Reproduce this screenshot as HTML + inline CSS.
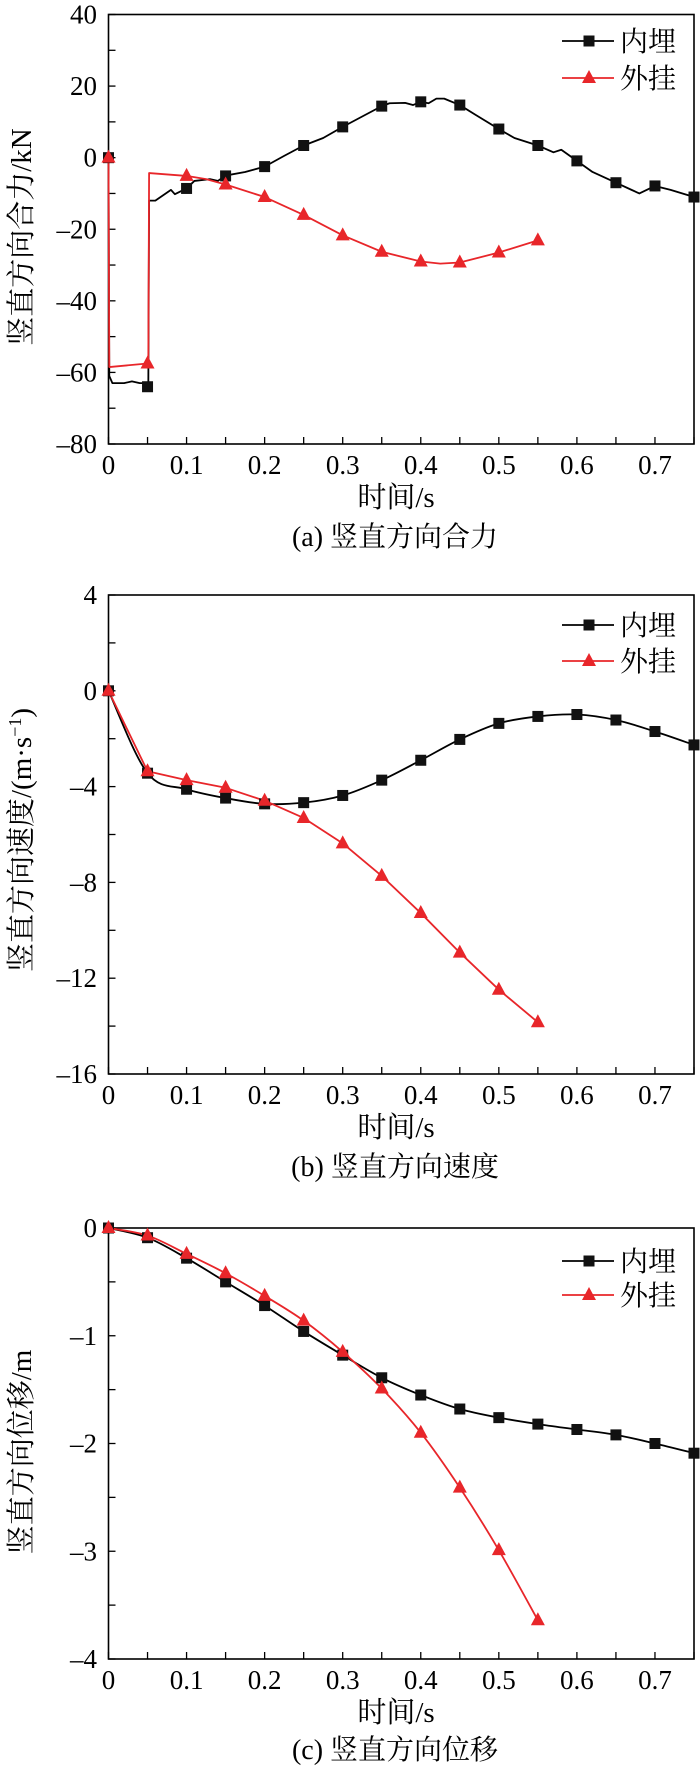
<!DOCTYPE html>
<html><head><meta charset="utf-8">
<style>
html,body{margin:0;padding:0;background:#fff;}
svg{display:block;}
text{font-family:"Liberation Serif","Noto Serif CJK SC","Noto Sans CJK SC",serif;fill:#000;}
</style></head>
<body>
<svg id="fig" width="700" height="1769" viewBox="0 0 700 1769" xmlns="http://www.w3.org/2000/svg"></svg>
<script>
// ---- shared x data ----
const markerTimes = [0,0.05,0.1,0.15,0.2,0.25,0.3,0.35,0.4,0.45,0.5,0.55,0.6,0.65,0.7,0.75];
const xTickLabels = ["0","0.1","0.2","0.3","0.4","0.5","0.6","0.7"];
// ---- (a) force ----
const forceEmbedMarkers = [0,-64,-8.6,-5.1,-2.5,3.4,8.6,14.4,15.6,14.7,8.0,3.4,-0.9,-7.0,-7.9,-11];
const forceHangMarkers = [0,-57.5,-5.1,-7.5,-11,-16,-21.7,-26.3,-29,-29.3,-26.5,-23.1];
const forceEmbedTraceT = [0,0.001,0.005,0.02,0.03,0.04,0.05,0.0505,0.051,0.052,0.06,0.07,0.08,0.085,0.1,0.11,0.13,0.14,0.15,0.175,0.2,0.225,0.25,0.275,0.3,0.325,0.35,0.36,0.38,0.39,0.4,0.41,0.42,0.43,0.45,0.47,0.5,0.52,0.55,0.57,0.58,0.6,0.62,0.65,0.67,0.68,0.7,0.72,0.75];
const forceEmbedTraceV = [0,-61,-63,-63,-62.5,-63,-63,-64,-64,-12,-12,-10.5,-9,-10.2,-8.6,-6.5,-6,-6.5,-5,-4,-2.5,0.5,3.4,5.5,8.6,11.5,14.4,15.2,15.3,14.7,15.6,15.2,16.5,16.5,14.7,12,8.0,5.5,3.4,1.5,2.2,-0.9,-4,-7,-9,-10,-7.9,-9,-11];
const forceHangTraceT = [0,0.001,0.05,0.051,0.052,0.1,0.125,0.15,0.2,0.25,0.3,0.35,0.4,0.425,0.45,0.5,0.55];
const forceHangTraceV = [0,-58.5,-57.5,-57.5,-4.3,-5.1,-6,-7.5,-11,-16,-21.7,-26.3,-29,-29.6,-29.3,-26.5,-23.1];
const forceTicks = [40,20,0,-20,-40,-60,-80];
// ---- (b) velocity ----
const velEmbed = [0,-3.44,-4.11,-4.48,-4.72,-4.67,-4.37,-3.73,-2.9,-2.03,-1.36,-1.07,-0.99,-1.22,-1.7,-2.26];
const velHang = [0,-3.36,-3.73,-4.05,-4.59,-5.31,-6.37,-7.73,-9.28,-10.93,-12.48,-13.84];
const velTicks = [4,0,-4,-8,-12,-16];
// ---- (c) displacement ----
const dispEmbed = [0,-0.09,-0.28,-0.5,-0.72,-0.96,-1.18,-1.39,-1.55,-1.68,-1.76,-1.82,-1.87,-1.92,-2.0,-2.09];
const dispHang = [0,-0.07,-0.24,-0.42,-0.63,-0.86,-1.15,-1.49,-1.9,-2.41,-2.99,-3.64];
const dispTicks = [0,-1,-2,-3,-4];

const NS="http://www.w3.org/2000/svg";
const fig=document.getElementById('fig');
function mk(tag,attrs,parent){const e=document.createElementNS(NS,tag);for(const k in attrs)e.setAttribute(k,attrs[k]);(parent||fig).appendChild(e);return e;}
function fmt(v){return v<0?"\u2013"+Math.abs(v):String(v);}
function smoothPath(pts){
  let d="M"+pts[0][0]+","+pts[0][1];
  for(let i=0;i<pts.length-1;i++){
    const p0=pts[Math.max(0,i-1)],p1=pts[i],p2=pts[i+1],p3=pts[Math.min(pts.length-1,i+2)];
    const c1=[p1[0]+(p2[0]-p0[0])/6,p1[1]+(p2[1]-p0[1])/6];
    const c2=[p2[0]-(p3[0]-p1[0])/6,p2[1]-(p3[1]-p1[1])/6];
    d+=" C"+c1[0]+","+c1[1]+" "+c2[0]+","+c2[1]+" "+p2[0]+","+p2[1];
  }
  return d;
}
function polyPath(pts){return "M"+pts.map(p=>p[0]+","+p[1]).join(" L");}

function drawPanel(cfg){
  const g=mk('g',{});
  
  
  const L=108.5,R=694,T=cfg.top,B=cfg.bottom;
  const xs=t=>L+(t/0.75)*(R-L);
  const ys=v=>T+(cfg.ymax-v)/(cfg.ymax-cfg.ymin)*(B-T);
  const minorStep=(cfg.yticks[0]-cfg.yticks[1])/2;
  for(let v=cfg.ymax;v>=cfg.ymin-1e-9;v-=minorStep){
    const t=mk('line',{x1:L,x2:L+7,y1:ys(v),y2:ys(v),stroke:'#000','stroke-width':1.3},g);
    
    
  }
  for(let i=0;i<=15;i++){
    const x=xs(i*0.05);
    const t=mk('line',{x1:x,x2:x,y1:B,y2:B-7,stroke:'#000','stroke-width':1.3},g);
    
    
  }
  const fr=mk('rect',{x:L,y:T,width:R-L,height:B-T,fill:'none',stroke:'#000','stroke-width':1.6},g);
  
  
  cfg.yticks.forEach(v=>{
    const t=mk('text',{x:97,y:ys(v)+9,'text-anchor':'end','font-size':27},g);
    t.textContent=fmt(v);
    
    
  });
  xTickLabels.forEach((s,i)=>{
    const t=mk('text',{x:xs(i*0.1),y:cfg.xlabY+9,'text-anchor':'middle','font-size':27},g);
    t.textContent=s;
    
    
  });
  const xt=mk('text',{x:396,y:cfg.xtitleY+10,'text-anchor':'middle','font-size':29},g);
  xt.textContent="时间/s";
  
  
  const cap=mk('text',{x:395,y:cfg.capY+10,'text-anchor':'middle','font-size':28},g);
  cap.textContent=cfg.caption;
  
  
  const yt=mk('text',{x:0,y:0,'text-anchor':'middle','font-size':29,transform:'translate(31,'+cfg.ytitleY+') rotate(-90)'},g);
  yt.innerHTML=cfg.ytitle;
  
  
  const blackPts=cfg.blackT.map((t,i)=>[xs(t),ys(cfg.blackV[i])]);
  const redPts=cfg.redT.map((t,i)=>[xs(t),ys(cfg.redV[i])]);
  const bl=mk('path',{d:cfg.smoothBlack?smoothPath(blackPts):polyPath(blackPts),fill:'none',stroke:'#000','stroke-width':1.8,'stroke-linejoin':'round'},g);
  
  
  const rl=mk('path',{d:cfg.smoothRed?smoothPath(redPts):polyPath(redPts),fill:'none',stroke:'#e8262a','stroke-width':1.8,'stroke-linejoin':'round'},g);
  
  
  cfg.blackM.forEach((v,i)=>{
    const x=xs(markerTimes[i]),y=ys(v);
    const m=mk('rect',{x:x-5.5,y:y-5.5,width:11,height:11,fill:'#111'},g);
    
    
  });
  cfg.redM.forEach((v,i)=>{
    const x=xs(markerTimes[i]),y=ys(v);
    const m=mk('polygon',{points:(x-7)+","+(y+5)+" "+(x+7)+","+(y+5)+" "+x+","+(y-8),fill:'#e8262a'},g);
    
    
  });
  const lg=mk('g',{},g);
  
  
  const l1=mk('line',{x1:562,x2:614,y1:cfg.leg1,y2:cfg.leg1,stroke:'#000','stroke-width':1.8},lg);
  
  
  mk('rect',{x:583.5,y:cfg.leg1-5.5,width:11,height:11,fill:'#111'},lg);
  const t1=mk('text',{x:620,y:cfg.leg1+10,'font-size':28},lg);
  t1.textContent="内埋";
  
  
  const l2=mk('line',{x1:562,x2:614,y1:cfg.leg2,y2:cfg.leg2,stroke:'#e8262a','stroke-width':1.8},lg);
  
  
  mk('polygon',{points:"582,"+(cfg.leg2+5)+" 596,"+(cfg.leg2+5)+" 589,"+(cfg.leg2-8),fill:'#e8262a'},lg);
  const t2=mk('text',{x:620,y:cfg.leg2+10,'font-size':28},lg);
  t2.textContent="外挂";
  
  
}

drawPanel({name:'force-chart',top:14.5,bottom:444,ymax:40,ymin:-80,yticks:forceTicks,
  xlabY:465,xtitleY:497,capY:536,ytitleY:237,leg1:41,leg2:78,
  caption:"(a) 竖直方向合力",ytitle:"竖直方向合力/kN",smoothBlack:false,smoothRed:false,
  blackT:forceEmbedTraceT,blackV:forceEmbedTraceV,redT:forceHangTraceT,redV:forceHangTraceV,
  blackM:forceEmbedMarkers,redM:forceHangMarkers});
drawPanel({name:'velocity-chart',top:595,bottom:1074,ymax:4,ymin:-16,yticks:velTicks,
  xlabY:1095,xtitleY:1127,capY:1166,ytitleY:840,leg1:625,leg2:661,
  caption:"(b) 竖直方向速度",ytitle:"竖直方向速度/(m·s<tspan dy='-10' font-size='18'>−1</tspan><tspan dy='10'>)</tspan>",smoothBlack:true,smoothRed:false,
  blackT:markerTimes,blackV:velEmbed,redT:markerTimes.slice(0,velHang.length),redV:velHang,
  blackM:velEmbed,redM:velHang});
drawPanel({name:'displacement-chart',top:1228,bottom:1659,ymax:0,ymin:-4,yticks:dispTicks,
  xlabY:1680,xtitleY:1712,capY:1749,ytitleY:1452,leg1:1261,leg2:1295,
  caption:"(c) 竖直方向位移",ytitle:"竖直方向位移/m",smoothBlack:true,smoothRed:true,
  blackT:markerTimes,blackV:dispEmbed,redT:markerTimes.slice(0,dispHang.length),redV:dispHang,
  blackM:dispEmbed,redM:dispHang});
</script>
</body></html>
